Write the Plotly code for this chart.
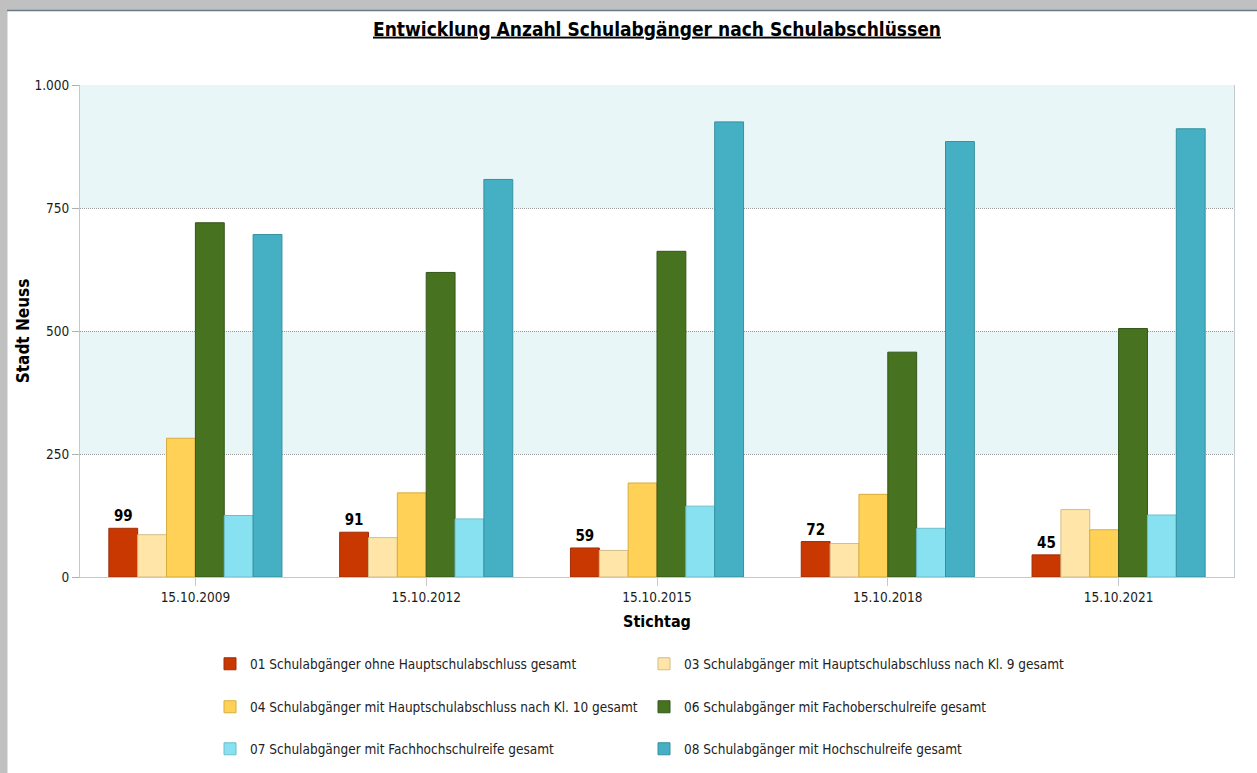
import plotly.graph_objects as go

# ---- data ----
categories = ["15.10.2009", "15.10.2012", "15.10.2015", "15.10.2018", "15.10.2021"]
series_names = [
    "01 Schulabgänger ohne Hauptschulabschluss gesamt",
    "03 Schulabgänger mit Hauptschulabschluss nach Kl. 9 gesamt",
    "04 Schulabgänger mit Hauptschulabschluss nach Kl. 10 gesamt",
    "06 Schulabgänger mit Fachoberschulreife gesamt",
    "07 Schulabgänger mit Fachhochschulreife gesamt",
    "08 Schulabgänger mit Hochschulreife gesamt",
]
s01 = [99, 91, 59, 72, 45]
s03 = [86, 80, 54, 68, 137]
s04 = [282, 171, 191, 168, 96]
s06 = [720, 619, 662, 457, 505]
s07 = [125, 118, 144, 99, 126]
s08 = [696, 808, 925, 885, 911]
y_tick_vals = [0, 250, 500, 750, 1000]
y_tick_text = ["0", "250", "500", "750", "1.000"]
band_ranges = [(250, 500), (750, 1000)]

# ---- styles ----
fills = ["#c83800", "#ffe6a8", "#ffd257", "#47721f", "#88e1f0", "#45b0c4"]
edges = ["#9e2e08", "#d2bd8a", "#d8ad3c", "#35561a", "#6cbfcc", "#34909f"]
legend_ids = ["legend", "legend", "legend2", "legend2", "legend3", "legend3"]
FONT = "DejaVu Sans Condensed, DejaVu Sans, sans-serif"

W, H = 1257, 773
L, R, T, B = 80, 23, 85, 196
PW, PH = W - L - R, H - T - B


def px(x):
    return (x - L) / PW


def py(y):
    return (H - B - y) / PH


fig = go.Figure()
all_series = [s01, s03, s04, s06, s07, s08]
for i, (name, vals) in enumerate(zip(series_names, all_series)):
    kw = {}
    if i == 0:
        kw = dict(text=vals, texttemplate="%{text}", textposition="outside",
                  textfont=dict(family=FONT, size=15, color="#000000", weight="bold"),
                  cliponaxis=False)
    fig.add_trace(go.Bar(
        x=categories, y=vals, name=name, legend=legend_ids[i],
        marker=dict(color=fills[i], line=dict(color=edges[i], width=1)),
        **kw,
    ))

shapes = []
for lo, hi in band_ranges:
    shapes.append(dict(type="rect", xref="paper", yref="y", x0=0, x1=1, y0=lo, y1=hi,
                       fillcolor="#e8f6f8", line=dict(width=0), layer="below"))
# outer window frame
shapes.append(dict(type="rect", xref="paper", yref="paper", x0=px(0), x1=px(7.5),
                   y0=py(H), y1=py(0), fillcolor="#c0c0c0", line=dict(width=0)))
shapes.append(dict(type="rect", xref="paper", yref="paper", x0=px(0), x1=px(W),
                   y0=py(10), y1=py(0), fillcolor="#c0c0c0", line=dict(width=0)))
shapes.append(dict(type="line", xref="paper", yref="paper", x0=px(7), x1=px(W),
                   y0=py(10.5), y1=py(10.5), line=dict(color="#6b7a8a", width=1.5)))

legend_style = dict(
    orientation="h", x=px(210), xanchor="left", yanchor="middle",
    entrywidth=389, entrywidthmode="pixels",
    font=dict(family=FONT, size=13.5, color="#222222"),
    bgcolor="rgba(0,0,0,0)",
)

fig.update_layout(
    width=W, height=H,
    margin=dict(l=L, r=R, t=T, b=B, autoexpand=False),
    paper_bgcolor="white", plot_bgcolor="white",
    barmode="group", bargap=0.25, bargroupgap=0,
    font=dict(family=FONT, size=13.5, color="#222222"),
    title=dict(text="<b><u>Entwicklung Anzahl Schulabgänger nach Schulabschlüssen</u></b>",
               x=0.5, xref="paper", xanchor="center",
               y=1 - 29 / H, yref="container", yanchor="middle",
               font=dict(family=FONT, size=19, color="#000000")),
    shapes=shapes,
    xaxis=dict(
        type="category", automargin=False, showline=True, linecolor="#c4c9ce", linewidth=1,
        ticks="outside", ticklen=8, tickcolor="#c8c8c8", tickwidth=1,
        tickfont=dict(family=FONT, size=13.5, color="#1a1a1a"),
        title=dict(text="<b>Stichtag</b>", standoff=11,
                   font=dict(family=FONT, size=16, color="#000000")),
    ),
    yaxis=dict(
        range=[0, 1000], tickvals=y_tick_vals, ticktext=y_tick_text, automargin=False,
        showgrid=True, gridcolor="#9a9a9a", griddash="1px,1px", gridwidth=1,
        zeroline=False, showline=True, linecolor="#c4c9ce", linewidth=1, mirror=True,
        ticks="outside", ticklen=7, tickcolor="#b0b0b0",
        tickfont=dict(family=FONT, size=13.5, color="#1a1a1a"),
        title=dict(text="<b>Stadt Neuss</b>", standoff=0,
                   font=dict(family=FONT, size=17, color="#000000")),
    ),
    legend=dict(legend_style, y=py(664)),
    legend2=dict(legend_style, y=py(707)),
    legend3=dict(legend_style, y=py(749)),
)

fig.write_html("out.html", config={"displayModeBar": False},
               post_script="document.body.style.margin='0px';")
